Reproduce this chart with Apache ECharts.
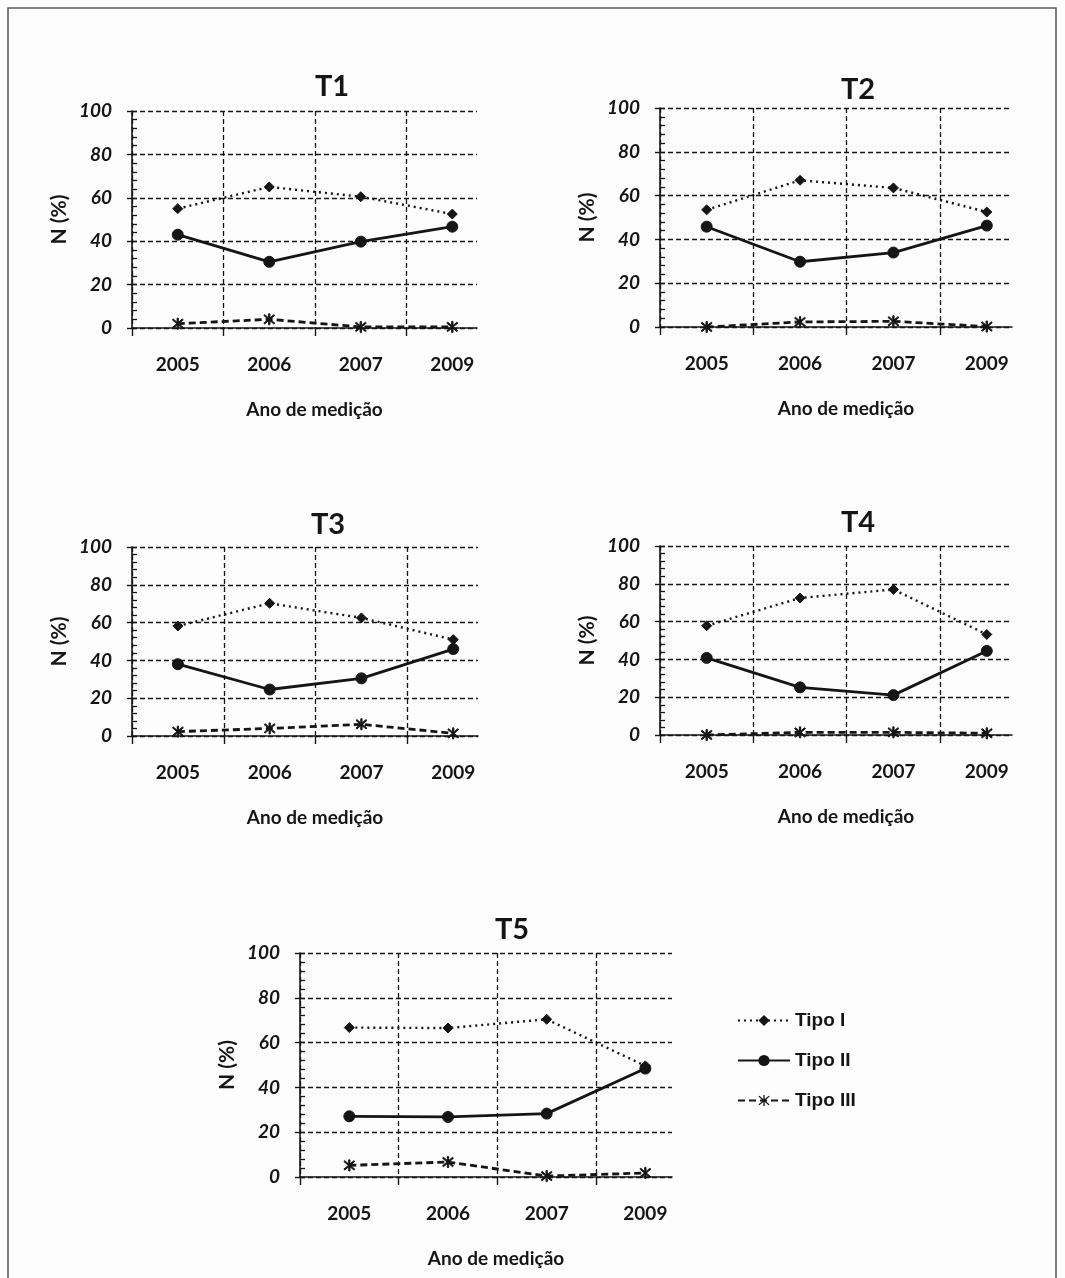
<!DOCTYPE html>
<html>
<head>
<meta charset="utf-8">
<script src="https://cdn.jsdelivr.net/npm/echarts@6/dist/echarts.min.js"></script>
<style>
  html, body { margin: 0; padding: 0; background: #fdfdfd; }
  #chart { width: 1065px; height: 1278px; }
</style>
</head>
<body>
<div id="chart"></div>
<script>
// years on the x axis (category positions 0..3)
const years = ['2005', '2006', '2007', '2009']
const panelNames = ['T1', 'T2', 'T3', 'T4', 'T5']
const seriesNames = ['Tipo I', 'Tipo II', 'Tipo III']

// N (%) per panel and type
const t1TipoI = [55, 65, 60.5, 52.5]
const t1TipoII = [43, 30.5, 39.8, 46.7]
const t1TipoIII = [2, 4, 0.5, 0.5]

const t2TipoI = [53.5, 67, 63.5, 52.5]
const t2TipoII = [45.8, 29.8, 34, 46.3]
const t2TipoIII = [0, 2.3, 2.6, 0.2]

const t3TipoI = [58.2, 70.2, 62.5, 51]
const t3TipoII = [38, 24.6, 30.5, 46]
const t3TipoIII = [2.3, 4, 6.2, 1.4]

const t4TipoI = [57.8, 72.5, 77, 53.2]
const t4TipoII = [40.8, 25.2, 21.1, 44.5]
const t4TipoIII = [0, 1.4, 1.4, 0.9]

const t5TipoI = [66.7, 66.5, 70.4, 49.6]
const t5TipoII = [27.1, 26.8, 28.3, 48.4]
const t5TipoIII = [5.2, 6.7, 0.4, 1.8]

const panelData = [
  [t1TipoI, t1TipoII, t1TipoIII],
  [t2TipoI, t2TipoII, t2TipoIII],
  [t3TipoI, t3TipoII, t3TipoIII],
  [t4TipoI, t4TipoII, t4TipoIII],
  [t5TipoI, t5TipoII, t5TipoIII],
]

// plot boxes in px (left, top, width, height) and title centres
const boxes = [
  { left: 132, top: 111, width: 345, height: 217, tx: 327, ty: 67 },
  { left: 660, top: 108, width: 352, height: 219, tx: 853, ty: 70 },
  { left: 132, top: 547, width: 346, height: 189, tx: 323, ty: 505 },
  { left: 660, top: 546, width: 352, height: 189, tx: 853, ty: 503 },
  { left: 300, top: 953, width: 372, height: 224, tx: 507, ty: 910 },
]

const FONT = 'Lato, "Open Sans", sans-serif'
const INK = '#151515'

// asterisk marker for Tipo III
const asterisk =
  'path://M9,0L11,0L11,20L9,20Z M1.5,3L3,1.5L18.5,17L17,18.5Z M17,1.5L18.5,3L3,18.5L1.5,17Z'

const styles = [
  { type: [2, 4], width: 2.4, symbol: 'diamond', size: 10 },
  { type: 'solid', width: 2.8, symbol: 'circle', size: 11 },
  { type: [7, 4], width: 2.8, symbol: asterisk, size: 11 },
]

const grids = []
const xAxes = []
const yAxes = []
const titles = []
const series = []

boxes.forEach((b, p) => {
  grids.push({ left: b.left, top: b.top, width: b.width, height: b.height, containLabel: false })
  titles.push({
    text: panelNames[p],
    left: b.tx,
    top: b.ty,
    textAlign: 'center',
    textStyle: { fontFamily: FONT, fontSize: 29, fontWeight: 'bold', color: INK },
  })
  xAxes.push({
    type: 'value',
    gridIndex: p,
    min: -0.5,
    max: 3.27,
    name: 'Ano de medição',
    nameLocation: 'middle',
    nameGap: 72,
    nameTextStyle: { fontFamily: FONT, fontSize: 19, fontWeight: 'bold', color: INK, padding: [0, 0, 0, 20] },
    axisLine: { onZero: true, lineStyle: { color: INK, width: 1.6 } },
    axisTick: {
      show: true,
      length: 8,
      customValues: [-0.5, 0.5, 1.5, 2.5],
      lineStyle: { color: INK, width: 1.4 },
    },
    axisLabel: {
      customValues: [0, 1, 2, 3],
      formatter: (v) => years[Math.round(v)],
      margin: 27,
      fontFamily: FONT,
      fontSize: 19,
      fontWeight: 'bold',
      color: INK,
    },
    splitLine: { show: true, lineStyle: { color: INK, type: [5, 3], width: 1.3 } },
  })
  // main y axis: labels, gridlines, major ticks
  yAxes.push({
    type: 'value',
    gridIndex: p,
    min: 0,
    max: 100,
    interval: 20,
    name: 'N (%)',
    nameLocation: 'middle',
    nameGap: 62,
    nameRotate: 90,
    nameTextStyle: { fontFamily: FONT, fontSize: 21, fontWeight: 'bold', color: INK },
    axisLine: { show: true, onZero: false, lineStyle: { color: INK, width: 1.6 } },
    axisTick: { show: true, inside: false, length: 5, lineStyle: { color: INK, width: 1.4 } },
    axisLabel: {
      margin: 20,
      fontFamily: FONT,
      fontSize: 19,
      fontStyle: 'italic',
      fontWeight: 'bold',
      color: INK,
    },
    splitLine: { show: true, lineStyle: { color: INK, type: [5, 3], width: 1.3 } },
  })
  // second y axis on the same line, only for the small inside ticks
  yAxes.push({
    type: 'value',
    gridIndex: p,
    position: 'left',
    min: 0,
    max: 100,
    interval: 4,
    axisLine: { show: false, onZero: false },
    axisTick: { show: true, inside: true, length: 5, lineStyle: { color: INK, width: 1.3 } },
    axisLabel: { show: false },
    splitLine: { show: false },
  })
  panelData[p].forEach((vals, s) => {
    const st = styles[s]
    series.push({
      name: seriesNames[s],
      type: 'line',
      xAxisIndex: p,
      yAxisIndex: 2 * p,
      data: vals.map((v, i) => [i, v]),
      symbol: st.symbol,
      symbolSize: st.size,
      showAllSymbol: true,
      lineStyle: { color: INK, width: st.width, type: st.type },
      itemStyle: { color: INK, borderColor: INK },
      z: 3 - s + 2,
      animation: false,
    })
  })
})

const chart = echarts.init(document.getElementById('chart'), null, { renderer: 'canvas' })
chart.setOption({
  backgroundColor: '#fdfdfd',
  animation: false,
  title: titles,
  grid: grids,
  xAxis: xAxes,
  yAxis: yAxes,
  legend: {
    data: seriesNames,
    orient: 'vertical',
    left: 732,
    top: 1006,
    itemWidth: 52,
    itemHeight: 14,
    itemGap: 21,
    textStyle: { fontFamily: '"Liberation Sans", Arial, sans-serif', fontSize: 19, fontWeight: 'bold', color: INK },
  },
  graphic: [
    {
      type: 'rect',
      shape: { x: 8, y: 8, width: 1048, height: 1300 },
      style: { fill: null, stroke: '#555', lineWidth: 1.5 },
      silent: true,
    },
  ],
  series: series,
})
</script>
</body>
</html>
